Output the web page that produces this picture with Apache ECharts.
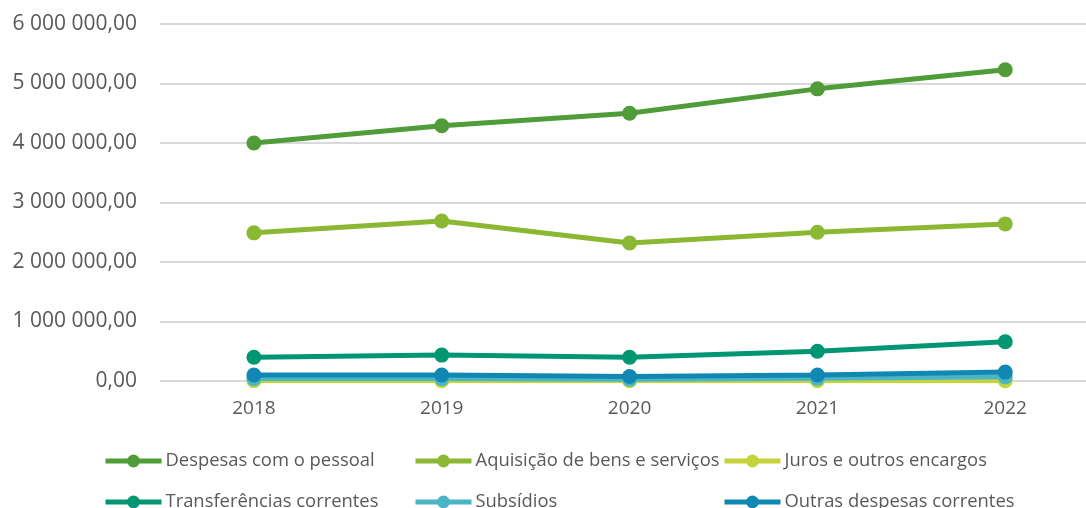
<!DOCTYPE html>
<html>
<head>
<meta charset="utf-8">
<script src="https://cdn.jsdelivr.net/npm/echarts@6/dist/echarts.min.js"></script>
<style>
  html, body { margin: 0; padding: 0; background: #fff; }
  #main { width: 1086px; height: 508px; }
</style>
</head>
<body>
<div id="main"></div>
<script>
// dados
const years = [2018, 2019, 2020, 2021, 2022];
const pessoal = [4000000, 4290000, 4500000, 4910000, 5230000];
const aquisicao = [2490000, 2690000, 2320000, 2500000, 2640000];
const juros = [5000, 5000, 4000, 4000, 5000];
const transferencias = [400000, 435000, 400000, 500000, 660000];
const subsidios = [40000, 40000, 30000, 45000, 70000];
const outras = [100000, 100000, 75000, 100000, 150000];
const yTicks = [0, 1000000, 2000000, 3000000, 4000000, 5000000, 6000000];

const names = ['Despesas com o pessoal', 'Aquisição de bens e serviços', 'Juros e outros encargos',
    'Transferências correntes', 'Subsídios', 'Outras despesas correntes'];
const colors = ['#4f9c39', '#8bb833', '#c6d43c', '#009672', '#4bb5c6', '#1187b4'];
const values = [pessoal, aquisicao, juros, transferencias, subsidios, outras];
const legendPos = [[103, 452], [413, 452], [722, 452], [103, 493], [413, 493], [722, 493]];

function fmt(v) {
    const s = Math.round(v).toString().replace(/\B(?=(\d{3})+(?!\d))/g, ' ');
    return s + ',00';
}

const myChart = echarts.init(document.getElementById('main'));

const option = {
    animation: false,
    color: colors,
    grid: { left: 160, top: 24, right: 0, height: 357 },
    legend: names.map((n, i) => ({
        data: [n],
        left: legendPos[i][0],
        top: legendPos[i][1],
        itemWidth: 56,
        itemHeight: 16,
        itemGap: 0,
        padding: 0,
        lineStyle: { width: 5 },
        textStyle: { fontSize: 18.4, color: '#595959', fontFamily: 'Open Sans', padding: [0, 0, 0, -1] }
    })),
    xAxis: {
        type: 'value',
        min: 2017.5,
        max: 2022.43,
        axisLine: { show: false },
        axisTick: { show: false },
        splitLine: { show: false },
        axisLabel: {
            fontSize: 19, color: '#595959', fontFamily: 'Open Sans', margin: 18,
            customValues: years, formatter: v => String(v)
        }
    },
    yAxis: {
        type: 'value',
        min: yTicks[0],
        max: yTicks[yTicks.length - 1],
        interval: 1000000,
        axisLine: { show: false },
        axisTick: { show: false },
        axisLabel: { fontSize: 21, color: '#595959', fontFamily: 'Open Sans', margin: 23, formatter: fmt },
        splitLine: { lineStyle: { color: '#d9d9d9', width: 2 } }
    },
    series: names.map((n, i) => ({
        name: n,
        type: 'line',
        data: years.map((y, k) => [y, values[i][k]]),
        symbol: 'circle',
        symbolSize: 15,
        lineStyle: { width: 5, color: colors[i] },
        itemStyle: { color: colors[i] },
        z: [2, 2, 1, 2, 2, 3][i]
    }))
};

myChart.setOption(option);
</script>
</body>
</html>
